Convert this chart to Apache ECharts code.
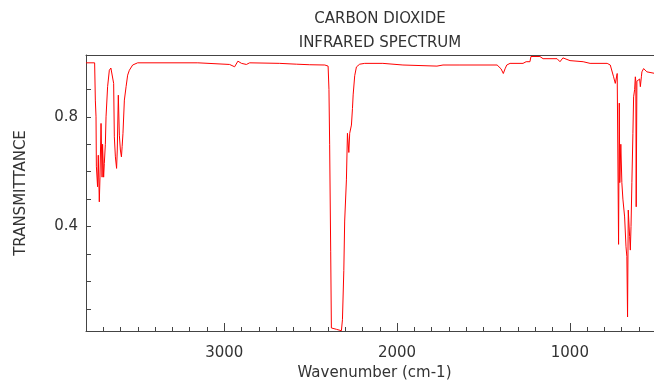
<!DOCTYPE html>
<html>
<head>
<meta charset="utf-8">
<script src="https://cdn.jsdelivr.net/npm/echarts@6/dist/echarts.min.js"></script>
<style>
html,body{margin:0;padding:0;background:#fff;}
#chart{width:654px;height:381px;}
</style>
</head>
<body>
<div id="chart"></div>
<script>
// Wavenumber (cm-1), left to right
const wavenumbers = [
  3800,3750,3746,3742,3740,3733,3729,3723,3719,3713,3707,3704,3698,3694,3688,3684,3675,3665,3656,3647,
  3640,3636,3630,3623,3619,3613,3607,3601,3595,3591,3586,3578,3568,3559,3549,3530,3501,
  3153,3149,2969,2940,2921,2900,2872,2853,2679,2583,2505,2418,2399,2394,2390,2386,2384,2380,2350,
  2322,2316,2308,2303,2293,2287,2279,2274,2264,2258,2254,2245,2235,2216,2187,
  2082,2080,1966,1964,1769,1734,1653,1647,1636,1421,1398,1385,1375,1365,1346,1271,1253,1231,1225,
  1173,1155,1074,1057,1040,999,923,883,784,766,756,747,737,726,722,718,714,711,705,699,693,683,
  675,670,666,662,654,650,646,641,635,631,625,621,618,616,612,602,596,592,586,583,573,554,544,513
];
// Transmittance at each wavenumber
const transmittance = [
  0.997,0.997,0.861,0.80,0.62,0.545,0.66,0.49,0.58,0.776,0.58,0.70,0.58,0.63,0.70,0.80,0.91,0.970,0.978,0.978,
  0.922,0.727,0.654,0.612,0.679,0.879,0.733,0.679,0.654,0.691,0.74,0.861,0.91,0.952,0.97,0.989,0.997,
  0.997,0.991,0.991,0.9825,1.003,0.995,0.991,0.997,0.995,0.992,0.990,0.989,0.985,0.90,0.70,0.70,0.31,0.03,0.025,
  0.02,0.06,0.24,0.42,0.57,0.74,0.67,0.74,0.77,0.83,0.88,0.95,0.982,0.992,0.995,
  0.995,0.989,0.989,0.985,0.985,0.989,0.989,0.995,0.989,0.989,0.975,0.958,0.975,0.989,0.995,0.995,1.001,1.001,1.02,
  1.02,1.012,1.012,1.001,1.015,1.005,1.001,0.995,0.995,0.989,0.985,0.946,0.922,0.958,0.958,0.335,0.85,0.56,0.70,0.56,0.50,0.435,
  0.326,0.29,0.07,0.46,0.363,0.314,0.40,0.56,0.74,0.873,0.90,0.946,0.93,0.472,0.93,0.934,0.938,0.91,0.946,0.964,0.976,0.964,0.959,0.959
];
const xMajorTicks = [1000, 2000, 3000];
const xMinorTicks = [600,700,800,900,1000,1100,1200,1300,1400,1500,1600,1700,1800,1900,2000,2100,2200,2300,2400,2500,2600,2700,2800,2900,3000,3100,3200,3300,3400,3500,3600,3700];
const yTicks = [0.1,0.2,0.3,0.4,0.5,0.6,0.7,0.8,0.9];
const yLabels = [0.4, 0.8];

const X_MIN = 513, X_MAX = 3800, Y_MIN = 0.019, Y_MAX = 1.0255;
const FONT = 'DejaVu Sans';
const AXIS_COLOR = '#444';
const TEXT_COLOR = '#333';

const seriesData = wavenumbers.map((w, i) => [w, transmittance[i]]);

const chart = echarts.init(document.getElementById('chart'), null, {renderer: 'canvas'});
chart.setOption({
  animation: false,
  backgroundColor: '#fff',
  title: {
    text: 'CARBON DIOXIDE\nINFRARED SPECTRUM',
    left: 375, top: 2, textAlign: 'center',
    textStyle: {fontFamily: FONT, fontSize: 15, fontWeight: 'normal', color: TEXT_COLOR, lineHeight: 24}
  },
  grid: {left: 86, right: 0, top: 55, bottom: 50, containLabel: false, outerBoundsMode: 'none'},
  xAxis: [
    {
      type: 'value', position: 'bottom', min: X_MIN, max: X_MAX, inverse: true,
      axisLine: {show: true, lineStyle: {color: AXIS_COLOR, width: 1}},
      axisTick: {show: true, inside: true, length: 4, customValues: xMinorTicks, lineStyle: {color: AXIS_COLOR}},
      axisLabel: {show: false},
      splitLine: {show: false}
    },
    {
      type: 'value', position: 'bottom', min: X_MIN, max: X_MAX, inverse: true,
      axisLine: {show: false},
      axisTick: {show: true, inside: true, length: 8, customValues: xMajorTicks, lineStyle: {color: AXIS_COLOR}},
      axisLabel: {show: true, customValues: xMajorTicks, margin: 15, fontFamily: FONT, fontSize: 15, color: TEXT_COLOR,
        formatter: v => String(Math.round(v))},
      splitLine: {show: false},
      name: 'Wavenumber (cm-1)', nameLocation: 'middle', nameGap: 35,
      nameTextStyle: {fontFamily: FONT, fontSize: 15, color: TEXT_COLOR, padding: [0, 0, 0, 9]}
    },
    {
      type: 'value', position: 'top', min: X_MIN, max: X_MAX, inverse: true,
      axisLine: {show: true, lineStyle: {color: AXIS_COLOR, width: 1}},
      axisTick: {show: false}, axisLabel: {show: false}, splitLine: {show: false}
    }
  ],
  yAxis: {
    type: 'value', min: Y_MIN, max: Y_MAX,
    axisLine: {show: true, lineStyle: {color: AXIS_COLOR, width: 1}},
    axisTick: {show: true, inside: true, length: 5, customValues: yTicks, lineStyle: {color: AXIS_COLOR}},
    axisLabel: {show: true, customValues: yLabels, margin: 8, fontFamily: FONT, fontSize: 15, color: TEXT_COLOR,
      padding: [5, 0, 0, 0], formatter: v => v.toFixed(1)},
    splitLine: {show: false},
    name: 'TRANSMITTANCE', nameLocation: 'middle', nameGap: 57, nameRotate: 90,
    nameTextStyle: {fontFamily: FONT, fontSize: 15, color: TEXT_COLOR}
  },
  series: [{
    type: 'line', xAxisIndex: 0, data: seriesData, showSymbol: false, symbol: 'none',
    clip: true, lineStyle: {color: '#ff0000', width: 1}
  }]
});
</script>
</body>
</html>
